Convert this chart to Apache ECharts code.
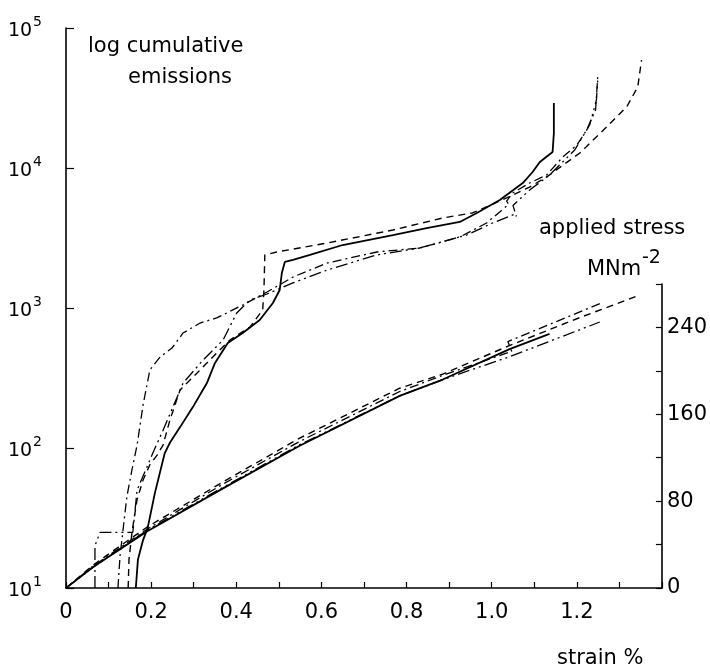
<!DOCTYPE html>
<html>
<head>
<meta charset="utf-8">
<script src="https://cdn.jsdelivr.net/npm/echarts/dist/echarts.min.js"></script>
<style>
  html, body { margin: 0; padding: 0; background: #fff; }
  #chart { width: 710px; height: 672px; }
</style>
</head>
<body>
<div id="chart"></div>
<script>
// tick labels
var xTickLabels = ['0', '0.2', '0.4', '0.6', '0.8', '1.0', '1.2'];
var stressTickLabels = ['0', '80', '160', '240'];

// log cumulative emissions vs strain %
var emSolidStrain = [0.164, 0.169, 0.181, 0.192, 0.209, 0.232, 0.244, 0.268, 0.298, 0.331, 0.350, 0.380, 0.415, 0.455, 0.486, 0.502, 0.507, 0.514, 0.533, 0.573, 0.650, 0.768, 0.847, 0.925, 0.965, 1.019, 1.073, 1.096, 1.113, 1.143, 1.146, 1.146];
var emSolidCount = [10, 16, 22, 27, 48, 92, 109, 141, 196, 291, 405, 562, 663, 821, 1086, 1345, 1778, 2133, 2203, 2392, 2818, 3320, 3725, 4115, 4775, 5907, 7810, 9360, 11040, 13010, 17780, 29100];

var emDashStrain = [0.146, 0.148, 0.155, 0.167, 0.181, 0.197, 0.214, 0.228, 0.244, 0.268, 0.308, 0.354, 0.385, 0.432, 0.462, 0.465, 0.467, 0.495, 0.613, 0.768, 0.885, 0.955, 1.035, 1.089, 1.129, 1.207, 1.270, 1.317, 1.343, 1.352];
var emDashCount = [10, 16, 25, 43, 59, 76, 89, 105, 158, 260, 343, 477, 591, 731, 968, 1345, 2392, 2512, 2911, 3606, 4395, 4775, 6109, 7311, 8630, 12800, 19640, 27300, 37900, 59100];

var emDotStrain = [0.122, 0.127, 0.134, 0.143, 0.155, 0.167, 0.181, 0.197, 0.221, 0.249, 0.275, 0.315, 0.354, 0.415, 0.472, 0.533, 0.613, 0.730, 0.831, 0.925, 0.988, 1.040, 1.035, 1.049, 1.089, 1.129, 1.167, 1.200, 1.223, 1.244, 1.249];
var emDotCount = [10, 17, 26, 45, 70, 105, 203, 361, 447, 518, 663, 781, 849, 1050, 1300, 1664, 2095, 2512, 2683, 3215, 4046, 5500, 5800, 6622, 7810, 8913, 11990, 14590, 18680, 25940, 44670];

var emDot2Strain = [0.068, 0.068, 0.080, 0.157, 0.167, 0.190, 0.204, 0.228, 0.251, 0.275, 0.322, 0.369, 0.401, 0.432, 0.472, 0.533, 0.613, 0.730, 0.831, 0.941, 1.002, 1.055, 1.058, 1.050, 1.089, 1.136, 1.195, 1.230, 1.246, 1.249];
var emDot2Count = [10, 20, 25, 25, 50, 73, 92, 134, 196, 291, 425, 591, 921, 1140, 1259, 1510, 1866, 2392, 2683, 3320, 4046, 4700, 4500, 5400, 6966, 8913, 13460, 20280, 30600, 42560];

// applied stress (MNm-2) vs strain %
var stSolidStrain = [0, 0.063, 0.19, 0.37, 0.549, 0.784, 0.885, 1.042, 1.136];
var stSolidValue = [0, 19, 52, 92, 131, 177, 192, 220, 234];

var stDashStrain = [0, 0.063, 0.19, 0.37, 0.549, 0.784, 0.885, 1.04, 1.2, 1.342];
var stDashValue = [0, 21, 56, 98, 138, 184, 197, 223, 248, 269];

var stDotStrain = [0, 0.063, 0.19, 0.37, 0.549, 0.784, 0.9, 1.047, 1.038, 1.15, 1.261];
var stDotValue = [0, 20, 54, 96, 135, 181, 198, 218, 227, 245, 263];

var stDot2Strain = [0, 0.063, 0.19, 0.37, 0.549, 0.784, 0.9, 1.042, 1.254];
var stDot2Value = [0, 19, 53, 93, 132, 177, 194, 213, 245];

var FONT = 'DejaVu Sans';
var INK = '#000';

function pairs(xs, ys) {
  return xs.map(function (x, i) { return [x, ys[i]]; });
}

function curve(data, idx, dash, width) {
  return {
    type: 'line',
    xAxisIndex: idx,
    yAxisIndex: idx,
    data: data,
    symbol: 'none',
    silent: true,
    lineStyle: { color: INK, width: width, type: dash }
  };
}

var chart = echarts.init(document.getElementById('chart'));

var option = {
  animation: false,
  backgroundColor: '#fff',
  grid: [
    { left: 66, right: 48, top: 28, bottom: 84 },
    { left: 66, right: 48, top: 284, bottom: 84 }
  ],
  xAxis: [
    {
      gridIndex: 0,
      type: 'value',
      min: 0,
      max: 1.4,
      interval: 0.1,
      axisLine: { show: true, onZero: false, lineStyle: { color: INK, width: 1.6 } },
      axisTick: { show: true, inside: true, length: 6, lineStyle: { color: INK, width: 1.2 } },
      splitLine: { show: false },
      axisLabel: {
        margin: 14,
        color: INK,
        fontSize: 21,
        fontFamily: FONT,
        formatter: function (v) {
          var k = Math.round(v * 10);
          if (k % 2 !== 0) return '';
          return xTickLabels[k / 2] || '';
        }
      }
    },
    { gridIndex: 1, type: 'value', min: 0, max: 1.4, show: false }
  ],
  yAxis: [
    {
      gridIndex: 0,
      type: 'log',
      logBase: 10,
      min: 10,
      max: 100000,
      position: 'left',
      axisLine: { show: true, onZero: false, lineStyle: { color: INK, width: 1.6 } },
      axisTick: { show: true, inside: true, length: 8, lineStyle: { color: INK, width: 1.2 } },
      splitLine: { show: false },
      minorTick: { show: false },
      axisLabel: {
        margin: 24,
        color: INK,
        fontFamily: FONT,
        formatter: function (v) {
          var e = Math.round(Math.log(v) / Math.LN10);
          return '{b|10}{s|' + e + '}';
        },
        rich: {
          b: { fontSize: 19, fontFamily: FONT, color: INK, lineHeight: 20, verticalAlign: 'bottom' },
          s: { fontSize: 14, fontFamily: FONT, color: INK, verticalAlign: 'top', padding: [0, 0, 12, 1] }
        }
      }
    },
    {
      gridIndex: 1,
      type: 'value',
      min: 0,
      max: 280,
      interval: 40,
      position: 'right',
      axisLine: { show: true, onZero: false, lineStyle: { color: INK, width: 1.6 } },
      axisTick: { show: true, inside: true, length: 6, lineStyle: { color: INK, width: 1.2 } },
      splitLine: { show: false },
      axisLabel: {
        margin: 5,
        color: INK,
        fontSize: 21,
        fontFamily: FONT,
        formatter: function (v) {
          if (v % 80 !== 0) return '';
          return stressTickLabels[v / 80] || '';
        }
      }
    }
  ],
  graphic: [
    { type: 'text', left: 88, top: 36, style: { text: 'log cumulative', font: '21px "DejaVu Sans"', fill: INK } },
    { type: 'text', left: 128, top: 67, style: { text: 'emissions', font: '21px "DejaVu Sans"', fill: INK } },
    { type: 'text', left: 539, top: 218, style: { text: 'applied stress', font: '21px "DejaVu Sans"', fill: INK } },
    { type: 'text', left: 587, top: 259, style: { text: 'MNm', font: '21px "DejaVu Sans"', fill: INK } },
    { type: 'text', left: 642, top: 249, style: { text: '-2', font: '19px "DejaVu Sans"', fill: INK } },
    { type: 'text', left: 557, top: 648, style: { text: 'strain %', font: '21px "DejaVu Sans"', fill: INK } }
  ],
  series: [
    curve(pairs(emSolidStrain, emSolidCount), 0, 'solid', 1.8),
    curve(pairs(emDashStrain, emDashCount), 0, [7, 5], 1.4),
    curve(pairs(emDotStrain, emDotCount), 0, [9, 4, 2, 4], 1.3),
    curve(pairs(emDot2Strain, emDot2Count), 0, [12, 4, 2, 4, 2, 4], 1.3),
    curve(pairs(stSolidStrain, stSolidValue), 1, 'solid', 1.8),
    curve(pairs(stDashStrain, stDashValue), 1, [7, 5], 1.4),
    curve(pairs(stDotStrain, stDotValue), 1, [9, 4, 2, 4], 1.3),
    curve(pairs(stDot2Strain, stDot2Value), 1, [12, 4, 2, 4, 2, 4], 1.3)
  ]
};

chart.setOption(option);
</script>
</body>
</html>
